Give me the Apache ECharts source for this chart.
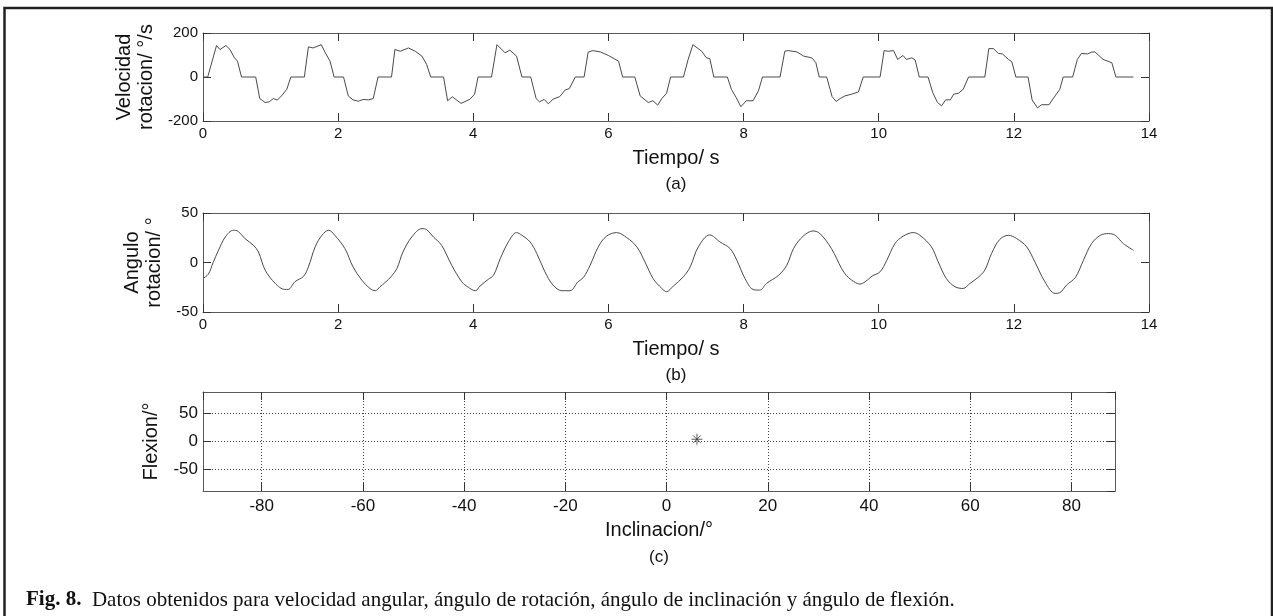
<!DOCTYPE html>
<html>
<head>
<meta charset="utf-8">
<script src="https://cdn.jsdelivr.net/npm/echarts@6/dist/echarts.min.js"></script>
<style>html,body{margin:0;padding:0;background:#fff;}#c{width:1273px;height:616px;}</style>
</head>
<body>
<div id="c"></div>
<script>
// ---- (a) angular velocity ----
const velTime = [0,0.07,0.20,0.25,0.34,0.40,0.46,0.51,0.57,0.78,0.84,0.92,0.98,1.04,1.10,1.17,1.24,1.30,1.50,1.56,1.63,1.75,1.81,1.88,1.94,2.08,2.15,2.22,2.30,2.37,2.45,2.52,2.59,2.79,2.84,2.92,3.04,3.14,3.24,3.31,3.37,3.56,3.62,3.69,3.82,3.95,4.02,4.07,4.27,4.35,4.47,4.54,4.64,4.72,4.85,4.93,4.98,5.05,5.11,5.18,5.28,5.36,5.42,5.51,5.64,5.70,5.77,5.88,6.00,6.15,6.21,6.39,6.47,6.59,6.66,6.73,6.79,6.86,6.92,7.11,7.18,7.25,7.38,7.45,7.50,7.56,7.76,7.82,7.89,7.96,8.04,8.14,8.22,8.28,8.54,8.61,8.66,8.79,8.89,9.01,9.07,9.12,9.23,9.31,9.37,9.43,9.50,9.60,9.70,9.77,10.02,10.08,10.14,10.22,10.28,10.36,10.41,10.49,10.54,10.60,10.73,10.80,10.87,10.93,10.99,11.06,11.11,11.18,11.25,11.33,11.57,11.63,11.70,11.77,11.83,11.92,11.97,12.03,12.21,12.27,12.35,12.41,12.52,12.61,12.68,12.73,12.87,12.94,13.00,13.09,13.15,13.20,13.32,13.45,13.51,13.77];
const velValue = [0,0,143,125,143,125,90,72,0,0,-98,-116,-113,-98,-105,-83,-56,0,0,137,132,147,110,72,0,0,-86,-104,-110,-102,-104,-98,0,0,125,117,132,117,95,57,0,0,-108,-90,-120,-101,-78,0,0,147,110,122,95,0,0,-98,-113,-102,-122,-101,-89,-59,-53,0,0,113,120,114,98,72,0,0,-86,-116,-108,-128,-98,-74,0,0,80,147,117,87,84,0,0,-56,-93,-135,-108,-108,-63,0,0,117,120,114,95,87,65,0,0,-89,-111,-98,-86,-78,-68,0,0,120,117,120,80,98,80,87,77,0,0,-71,-116,-131,-104,-104,-78,-74,-56,0,0,129,129,107,105,80,69,0,0,-104,-140,-126,-126,-86,-56,0,0,80,107,105,113,114,80,65,0,0];

// ---- (b) rotation angle ----
const angTime = [0,0.08,0.15,0.23,0.33,0.45,0.52,0.62,0.745,0.82,0.92,1.07,1.21,1.26,1.36,1.49,1.56,1.66,1.76,1.86,1.95,2.10,2.22,2.35,2.47,2.55,2.62,2.69,2.79,2.87,2.96,3.09,3.24,3.31,3.41,3.53,3.68,3.83,3.93,4.03,4.10,4.22,4.30,4.40,4.52,4.64,4.72,4.84,4.94,5.06,5.18,5.31,5.43,5.55,5.63,5.73,5.85,5.97,6.12,6.27,6.42,6.54,6.66,6.79,6.86,6.96,7.11,7.21,7.33,7.50,7.65,7.80,7.90,8.02,8.14,8.24,8.34,8.52,8.64,8.74,8.88,9.03,9.13,9.30,9.45,9.52,9.60,9.72,9.80,9.90,10.02,10.12,10.24,10.36,10.51,10.61,10.78,10.88,11.00,11.13,11.25,11.35,11.47,11.57,11.67,11.79,11.92,12.04,12.19,12.31,12.46,12.61,12.68,12.78,12.91,13.03,13.15,13.28,13.40,13.50,13.62,13.77];
const angValue = [-16.1,-11.7,0,12.4,25.8,32.6,31.5,24.2,17.5,10.7,-7.7,-21.1,-27.2,-27.2,-19.5,-13.8,-4.4,15.8,27.5,32.6,27.5,14.1,-4.4,-17.8,-26.2,-28.5,-24.5,-20.5,-13.8,-6,10.7,25.8,34.2,33.2,25.8,17.5,-2.7,-19.5,-25.2,-28.5,-23.8,-17.1,-12.8,4,20.8,30.2,27.5,20.8,9.1,-9.4,-22.8,-28.5,-28.5,-19.5,-15.1,-2.7,15.8,26.5,30.2,25.2,15.8,0.7,-16.1,-26.2,-29.5,-23.8,-14.4,-4.4,15.8,27.9,20.8,14.1,2.3,-16.1,-27.2,-27.9,-21.1,-12.8,-2.7,14.1,26.5,31.9,29.2,14.1,-6,-13,-17.8,-21.8,-19.5,-13.8,-9.4,2.3,19.1,26.5,30.2,27.5,15.8,0.7,-16.1,-24.5,-26.2,-21.1,-15.1,-7.7,9.1,23.2,27.5,24.2,15.8,0.7,-19.5,-31.2,-30.5,-22.8,-15.1,2.3,19.1,27.5,29.2,27.5,19.1,12.4];

// ---- (c) inclination / flexion ----
const inclValue = [6];
const flexValue = [4];

const caption = 'Datos obtenidos para velocidad angular, ángulo de rotación, ángulo de inclinación y ángulo de flexión.';

const pairs = (a, b) => a.map((v, i) => [v, b[i]]);

const FONT = 'Liberation Sans, Arial, sans-serif';
const axisLineStyle = { color: '#5a5a5a', width: 1 };
const tickStyle = { color: '#333', width: 1 };
const nameStyle = { color: '#111', fontFamily: FONT, fontSize: 20, lineHeight: 22 };

function mainAxis(grid, pos, min, max, extra) {
  return Object.assign({
    type: 'value', gridIndex: grid, min: min, max: max, position: pos,
    axisLine: { show: true, onZero: false, lineStyle: axisLineStyle },
    axisTick: { show: true, inside: true, length: 8, lineStyle: tickStyle },
    splitLine: { show: false },
    nameLocation: 'middle', nameTextStyle: nameStyle
  }, extra);
}
function mirrorAxis(grid, pos, min, max, extra) {
  return Object.assign({
    type: 'value', gridIndex: grid, min: min, max: max, position: pos,
    axisLine: { show: true, onZero: false, lineStyle: axisLineStyle },
    axisTick: { show: true, inside: true, length: 8, lineStyle: tickStyle },
    axisLabel: { show: false },
    splitLine: { show: false }
  }, extra);
}
const lbl = (size, margin) => ({ show: true, color: '#111', fontFamily: FONT, fontSize: size, margin: margin });
const dotted = { show: true, lineStyle: { color: '#444', type: [1, 2], width: 1 } };

const cXi = { minInterval: 20, maxInterval: 20, splitNumber: 9 };
const cYi = { minInterval: 50, maxInterval: 50, splitNumber: 3 };

const xAxes = [
  mainAxis(0, 'bottom', 0, 14, { interval: 2, axisLabel: lbl(15, 5), name: 'Tiempo/ s', nameGap: 26 }),
  mirrorAxis(0, 'top', 0, 14, { interval: 2 }),
  mainAxis(1, 'bottom', 0, 14, { interval: 2, axisLabel: lbl(15, 5), name: 'Tiempo/ s', nameGap: 26 }),
  mirrorAxis(1, 'top', 0, 14, { interval: 2 }),
  mainAxis(2, 'bottom', -91.6, 88.6, Object.assign({}, cXi, {
    axisLabel: Object.assign(lbl(17, 7), { showMinLabel: false, showMaxLabel: false }),
    splitLine: dotted, name: 'Inclinacion/°', nameGap: 28 })),
  mirrorAxis(2, 'top', -91.6, 88.6, cXi)
];
const yAxes = [
  mainAxis(0, 'left', -200, 200, { interval: 200, axisLabel: lbl(15, 5), name: 'Velocidad\nrotacion/ °/s', nameGap: 38, nameRotate: 90 }),
  mirrorAxis(0, 'right', -200, 200, { interval: 200 }),
  mainAxis(1, 'left', -50, 50, { interval: 50, axisLabel: lbl(15, 5), name: 'Angulo\nrotacion/ °', nameGap: 38, nameRotate: 90 }),
  mirrorAxis(1, 'right', -50, 50, { interval: 50 }),
  mainAxis(2, 'left', -88.5, 88.5, Object.assign({}, cYi, {
    axisLabel: Object.assign(lbl(17, 5), { showMinLabel: false, showMaxLabel: false }),
    splitLine: dotted, name: 'Flexion/°', nameGap: 36, nameRotate: 90 })),
  mirrorAxis(2, 'right', -88.5, 88.5, cYi)
];

const chart = echarts.init(document.getElementById('c'), null, { renderer: 'canvas' });
const lineCol = '#4a4a4a';
chart.setOption({
  animation: false,
  backgroundColor: '#fff',
  grid: [
    { left: 203, top: 33, width: 946, height: 88 },
    { left: 203, top: 213, width: 946, height: 99 },
    { left: 203, top: 392, width: 912, height: 99 }
  ],
  xAxis: xAxes,
  yAxis: yAxes,
  series: [
    { type: 'line', xAxisIndex: 0, yAxisIndex: 0, data: pairs(velTime, velValue), showSymbol: false,
      lineStyle: { color: lineCol, width: 1 }, z: 1 },
    { type: 'line', xAxisIndex: 2, yAxisIndex: 2, data: pairs(angTime, angValue), showSymbol: false, smooth: 0.35,
      lineStyle: { color: lineCol, width: 1 }, z: 1 },
    { type: 'scatter', xAxisIndex: 4, yAxisIndex: 4, data: pairs(inclValue, flexValue),
      symbol: 'path://M5 0L5 10M0 5L10 5M1.5 1.5L8.5 8.5M8.5 1.5L1.5 8.5', symbolSize: 11,
      itemStyle: { color: 'none', borderColor: '#333', borderWidth: 1 }, z: 3 }
  ],
  graphic: [
    { type: 'rect', shape: { x: 4.5, y: 8, width: 1267.5, height: 700 }, style: { fill: 'none', stroke: '#222', lineWidth: 2.5 }, silent: true },
    { type: 'text', x: 676, y: 184, style: { text: '(a)', font: '17px Liberation Sans', fill: '#111', textAlign: 'center', textVerticalAlign: 'middle' } },
    { type: 'text', x: 676, y: 375, style: { text: '(b)', font: '17px Liberation Sans', fill: '#111', textAlign: 'center', textVerticalAlign: 'middle' } },
    { type: 'text', x: 659, y: 557, style: { text: '(c)', font: '17px Liberation Sans', fill: '#111', textAlign: 'center', textVerticalAlign: 'middle' } },
    { type: 'text', x: 26, y: 600, style: {
        text: '{b|Fig. 8.}  ' + caption,
        rich: { b: { fontWeight: 'bold', fontFamily: 'Liberation Serif', fontSize: 21, fill: '#111' } },
        fontFamily: 'Liberation Serif', fontSize: 21, fill: '#111', textVerticalAlign: 'middle' } }
  ]
});
</script>
</body>
</html>
